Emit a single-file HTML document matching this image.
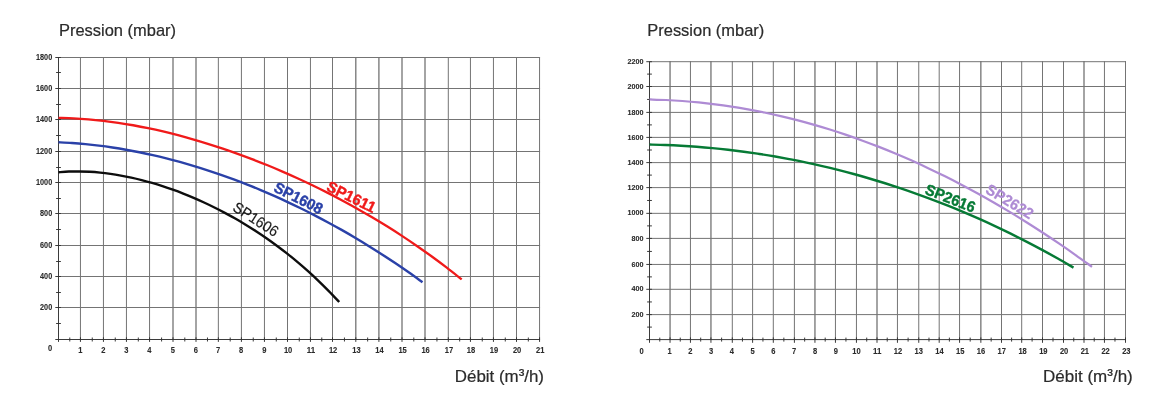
<!DOCTYPE html>
<html lang="fr">
<head>
<meta charset="utf-8">
<title>Courbes pression / débit</title>
<style>
html,body{margin:0;padding:0;background:#fff;}
body{width:1158px;height:407px;overflow:hidden;}
svg{display:block;}
text{font-family:"Liberation Sans",sans-serif;}
.tk text{font-weight:bold;fill:#2b2b2b;stroke:#2b2b2b;stroke-width:0.1px;}
.ttl{font-size:15.9px;fill:#2b2b2b;stroke:#2b2b2b;stroke-width:0.2;}
</style>
</head>
<body>
<svg width="1158" height="407" viewBox="0 0 1158 407">
<rect width="1158" height="407" fill="#fff"/>
<path d="M80.45 57V339.5M103.45 57V339.5M126.45 57V339.5M149.55 57V339.5M218.35 57V339.5M241.42 57V339.5M264.45 57V339.5M287.5 57V339.5M310.45 57V339.5M332.5 57V339.5M448.3 57V339.5M470.45 57V339.5M493.45 57V339.5M516.5 57V339.5M539.55 57V339.5M58.5 307.5H540.05M58.5 276.5H540.05M58.5 245.5H540.05M58.5 213.5H540.05M58.5 182.5H540.05M58.5 151.5H540.05M58.5 119.5H540.05M58.5 88.5H540.05M58.5 57.5H540.05" fill="none" stroke="#747474" stroke-width="1.0"/>
<path d="M173 57V339.5M196 57V339.5M355.8 57V339.5M378.9 57V339.5M402 57V339.5M425 57V339.5" fill="none" stroke="#747474" stroke-width="1.3"/>
<path d="M58.5 57.5V341.9M55.3 339.5H540.05M56.1 323.5H60.9M55.3 307.5H60.9M56.1 292.5H60.9M55.3 276.5H60.9M56.1 261.5H60.9M55.3 245.5H60.9M56.1 229.5H60.9M55.3 213.5H60.9M56.1 198.5H60.9M55.3 182.5H60.9M56.1 167.5H60.9M55.3 151.5H60.9M56.1 135.5H60.9M55.3 119.5H60.9M56.1 104.5H60.9M55.3 88.5H60.9M56.1 72.5H60.9M55.3 57.5H60.9M69.77 337.5V341.5M80.45 337.3V341.9M92.25 337.5V341.5M103.45 337.3V341.9M115.25 337.5V341.5M126.45 337.3V341.9M138.3 337.5V341.5M149.55 337.3V341.9M161.58 337.5V341.5M173 337.3V341.9M184.8 337.5V341.5M196 337.3V341.9M207.48 337.5V341.5M218.35 337.3V341.9M230.19 337.5V341.5M241.42 337.3V341.9M253.24 337.5V341.5M264.45 337.3V341.9M276.28 337.5V341.5M287.5 337.3V341.9M299.28 337.5V341.5M310.45 337.3V341.9M321.78 337.5V341.5M332.5 337.3V341.9M344.45 337.5V341.5M355.8 337.3V341.9M367.65 337.5V341.5M378.9 337.3V341.9M390.75 337.5V341.5M402 337.3V341.9M413.8 337.5V341.5M425 337.3V341.9M436.95 337.5V341.5M448.3 337.3V341.9M459.68 337.5V341.5M470.45 337.3V341.9M482.25 337.5V341.5M493.45 337.3V341.9M505.28 337.5V341.5M516.5 337.3V341.9M528.32 337.5V341.5M539.55 337.3V341.9" fill="none" stroke="#303030" stroke-width="0.95"/>
<g class="tk" text-anchor="end" style="font-size:8.2px">
<text x="52.2" y="310" textLength="12.15" lengthAdjust="spacingAndGlyphs">200</text>
<text x="52.2" y="279" textLength="12.15" lengthAdjust="spacingAndGlyphs">400</text>
<text x="52.2" y="248" textLength="12.15" lengthAdjust="spacingAndGlyphs">600</text>
<text x="52.2" y="216" textLength="12.15" lengthAdjust="spacingAndGlyphs">800</text>
<text x="52.2" y="185" textLength="16.2" lengthAdjust="spacingAndGlyphs">1000</text>
<text x="52.2" y="154" textLength="16.2" lengthAdjust="spacingAndGlyphs">1200</text>
<text x="52.2" y="122" textLength="16.2" lengthAdjust="spacingAndGlyphs">1400</text>
<text x="52.2" y="91" textLength="16.2" lengthAdjust="spacingAndGlyphs">1600</text>
<text x="52.2" y="60" textLength="16.2" lengthAdjust="spacingAndGlyphs">1800</text>
</g>
<g class="tk" text-anchor="middle" style="font-size:8.2px">
<text x="50" y="351.4" textLength="4.2" lengthAdjust="spacingAndGlyphs">0</text>
<text x="80.25" y="353" textLength="4.2" lengthAdjust="spacingAndGlyphs">1</text>
<text x="103.25" y="353" textLength="4.2" lengthAdjust="spacingAndGlyphs">2</text>
<text x="126.25" y="353" textLength="4.2" lengthAdjust="spacingAndGlyphs">3</text>
<text x="149.35" y="353" textLength="4.2" lengthAdjust="spacingAndGlyphs">4</text>
<text x="172.8" y="353" textLength="4.2" lengthAdjust="spacingAndGlyphs">5</text>
<text x="195.8" y="353" textLength="4.2" lengthAdjust="spacingAndGlyphs">6</text>
<text x="218.15" y="353" textLength="4.2" lengthAdjust="spacingAndGlyphs">7</text>
<text x="241.22" y="353" textLength="4.2" lengthAdjust="spacingAndGlyphs">8</text>
<text x="264.25" y="353" textLength="4.2" lengthAdjust="spacingAndGlyphs">9</text>
<text x="288.1" y="353" textLength="8.4" lengthAdjust="spacingAndGlyphs">10</text>
<text x="311.05" y="353" textLength="8.4" lengthAdjust="spacingAndGlyphs">11</text>
<text x="333.1" y="353" textLength="8.4" lengthAdjust="spacingAndGlyphs">12</text>
<text x="356.4" y="353" textLength="8.4" lengthAdjust="spacingAndGlyphs">13</text>
<text x="379.5" y="353" textLength="8.4" lengthAdjust="spacingAndGlyphs">14</text>
<text x="402.6" y="353" textLength="8.4" lengthAdjust="spacingAndGlyphs">15</text>
<text x="425.6" y="353" textLength="8.4" lengthAdjust="spacingAndGlyphs">16</text>
<text x="448.9" y="353" textLength="8.4" lengthAdjust="spacingAndGlyphs">17</text>
<text x="471.05" y="353" textLength="8.4" lengthAdjust="spacingAndGlyphs">18</text>
<text x="494.05" y="353" textLength="8.4" lengthAdjust="spacingAndGlyphs">19</text>
<text x="517.1" y="353" textLength="8.4" lengthAdjust="spacingAndGlyphs">20</text>
<text x="540.15" y="353" textLength="8.4" lengthAdjust="spacingAndGlyphs">21</text>
</g>
<text class="ttl" x="59" y="35.8" textLength="117" lengthAdjust="spacingAndGlyphs">Pression (mbar)</text>
<text class="ttl" x="454.8" y="381.7" textLength="89.2" lengthAdjust="spacingAndGlyphs">Débit (m<tspan dy="-1.6">³</tspan><tspan dy="1.6">/h)</tspan></text>
<path d="M690.45 61.1V339.6M732.3 61.1V339.6M752.6 61.1V339.6M773.3 61.1V339.6M794.4 61.1V339.6M835.45 61.1V339.6M856.45 61.1V339.6M897.45 61.1V339.6M918.75 61.1V339.6M939.2 61.1V339.6M959.55 61.1V339.6M1001.5 61.1V339.6M1021.7 61.1V339.6M1042.5 61.1V339.6M1063.5 61.1V339.6M1104.45 61.1V339.6M1125.5 61.1V339.6M649.5 314.6H1126M649.5 289.3H1126M649.5 264.45H1126M649.5 238.4H1126M649.5 213.35H1126M649.5 187.6H1126M649.5 162.6H1126M649.5 137.4H1126M649.5 112.4H1126M649.5 86.5H1126M649.5 61.7H1126" fill="none" stroke="#747474" stroke-width="1.0"/>
<path d="M670.05 61.1V339.6M710.95 61.1V339.6M814.95 61.1V339.6M877 61.1V339.6M980.85 61.1V339.6M1084 61.1V339.6" fill="none" stroke="#747474" stroke-width="1.3"/>
<path d="M649.5 61.6V342.8M646.3 339.6H1126M647.1 327.1H651.9M646.3 314.6H651.9M647.1 301.95H651.9M646.3 289.3H651.9M647.1 276.88H651.9M646.3 264.45H651.9M647.1 251.43H651.9M646.3 238.4H651.9M647.1 225.88H651.9M646.3 213.35H651.9M647.1 200.47H651.9M646.3 187.6H651.9M647.1 175.1H651.9M646.3 162.6H651.9M647.1 150H651.9M646.3 137.4H651.9M647.1 124.9H651.9M646.3 112.4H651.9M647.1 99.45H651.9M646.3 86.5H651.9M647.1 74.1H651.9M646.3 61.7H651.9M659.77 337.6V341.6M670.05 337.4V342.8M680.25 337.6V341.6M690.45 337.4V342.8M700.7 337.6V341.6M710.95 337.4V342.8M721.62 337.6V341.6M732.3 337.4V342.8M742.45 337.6V341.6M752.6 337.4V342.8M762.95 337.6V341.6M773.3 337.4V342.8M783.85 337.6V341.6M794.4 337.4V342.8M804.67 337.6V341.6M814.95 337.4V342.8M825.2 337.6V341.6M835.45 337.4V342.8M845.95 337.6V341.6M856.45 337.4V342.8M866.73 337.6V341.6M877 337.4V342.8M887.23 337.6V341.6M897.45 337.4V342.8M908.1 337.6V341.6M918.75 337.4V342.8M928.98 337.6V341.6M939.2 337.4V342.8M949.38 337.6V341.6M959.55 337.4V342.8M970.2 337.6V341.6M980.85 337.4V342.8M991.17 337.6V341.6M1001.5 337.4V342.8M1011.6 337.6V341.6M1021.7 337.4V342.8M1032.1 337.6V341.6M1042.5 337.4V342.8M1053 337.6V341.6M1063.5 337.4V342.8M1073.75 337.6V341.6M1084 337.4V342.8M1094.22 337.6V341.6M1104.45 337.4V342.8M1114.97 337.6V341.6M1125.5 337.4V342.8" fill="none" stroke="#303030" stroke-width="0.95"/>
<g class="tk" text-anchor="end" style="font-size:7.4px">
<text x="643.6" y="316.7" textLength="12" lengthAdjust="spacingAndGlyphs">200</text>
<text x="643.6" y="291.4" textLength="12" lengthAdjust="spacingAndGlyphs">400</text>
<text x="643.6" y="266.55" textLength="12" lengthAdjust="spacingAndGlyphs">600</text>
<text x="643.6" y="240.5" textLength="12" lengthAdjust="spacingAndGlyphs">800</text>
<text x="643.6" y="215.45" textLength="16" lengthAdjust="spacingAndGlyphs">1000</text>
<text x="643.6" y="189.7" textLength="16" lengthAdjust="spacingAndGlyphs">1200</text>
<text x="643.6" y="164.7" textLength="16" lengthAdjust="spacingAndGlyphs">1400</text>
<text x="643.6" y="139.5" textLength="16" lengthAdjust="spacingAndGlyphs">1600</text>
<text x="643.6" y="114.5" textLength="16" lengthAdjust="spacingAndGlyphs">1800</text>
<text x="643.6" y="88.6" textLength="16" lengthAdjust="spacingAndGlyphs">2000</text>
<text x="643.6" y="63.8" textLength="16" lengthAdjust="spacingAndGlyphs">2200</text>
</g>
<g class="tk" text-anchor="middle" style="font-size:8.2px">
<text x="641.5" y="353.9" textLength="4.2" lengthAdjust="spacingAndGlyphs">0</text>
<text x="669.66" y="353.9" textLength="4.2" lengthAdjust="spacingAndGlyphs">1</text>
<text x="690.42" y="353.9" textLength="4.2" lengthAdjust="spacingAndGlyphs">2</text>
<text x="711.18" y="353.9" textLength="4.2" lengthAdjust="spacingAndGlyphs">3</text>
<text x="731.94" y="353.9" textLength="4.2" lengthAdjust="spacingAndGlyphs">4</text>
<text x="752.7" y="353.9" textLength="4.2" lengthAdjust="spacingAndGlyphs">5</text>
<text x="773.46" y="353.9" textLength="4.2" lengthAdjust="spacingAndGlyphs">6</text>
<text x="794.22" y="353.9" textLength="4.2" lengthAdjust="spacingAndGlyphs">7</text>
<text x="814.98" y="353.9" textLength="4.2" lengthAdjust="spacingAndGlyphs">8</text>
<text x="835.74" y="353.9" textLength="4.2" lengthAdjust="spacingAndGlyphs">9</text>
<text x="856.5" y="353.9" textLength="8.4" lengthAdjust="spacingAndGlyphs">10</text>
<text x="877.26" y="353.9" textLength="8.4" lengthAdjust="spacingAndGlyphs">11</text>
<text x="898.02" y="353.9" textLength="8.4" lengthAdjust="spacingAndGlyphs">12</text>
<text x="918.78" y="353.9" textLength="8.4" lengthAdjust="spacingAndGlyphs">13</text>
<text x="939.54" y="353.9" textLength="8.4" lengthAdjust="spacingAndGlyphs">14</text>
<text x="960.3" y="353.9" textLength="8.4" lengthAdjust="spacingAndGlyphs">15</text>
<text x="981.06" y="353.9" textLength="8.4" lengthAdjust="spacingAndGlyphs">16</text>
<text x="1001.82" y="353.9" textLength="8.4" lengthAdjust="spacingAndGlyphs">17</text>
<text x="1022.58" y="353.9" textLength="8.4" lengthAdjust="spacingAndGlyphs">18</text>
<text x="1043.34" y="353.9" textLength="8.4" lengthAdjust="spacingAndGlyphs">19</text>
<text x="1064.1" y="353.9" textLength="8.4" lengthAdjust="spacingAndGlyphs">20</text>
<text x="1084.86" y="353.9" textLength="8.4" lengthAdjust="spacingAndGlyphs">21</text>
<text x="1105.62" y="353.9" textLength="8.4" lengthAdjust="spacingAndGlyphs">22</text>
<text x="1126.38" y="353.9" textLength="8.4" lengthAdjust="spacingAndGlyphs">23</text>
</g>
<text class="ttl" x="647.3" y="35.8" textLength="117" lengthAdjust="spacingAndGlyphs">Pression (mbar)</text>
<text class="ttl" x="1043" y="381.7" textLength="89.8" lengthAdjust="spacingAndGlyphs">Débit (m<tspan dy="-1.6">³</tspan><tspan dy="1.6">/h)</tspan></text>
<path d="M58.5 172.21C60.23 172.1 65.43 171.69 68.9 171.57C72.36 171.44 75.83 171.4 79.29 171.44C82.76 171.48 86.22 171.61 89.69 171.81C93.15 172.01 96.62 172.29 100.09 172.64C103.55 172.98 107.02 173.41 110.48 173.9C113.95 174.39 117.41 174.96 120.88 175.58C124.34 176.21 127.81 176.91 131.27 177.67C134.74 178.42 138.2 179.25 141.67 180.13C145.14 181.02 148.6 181.96 152.07 182.97C155.53 183.97 159 185.04 162.46 186.17C165.93 187.29 169.39 188.48 172.86 189.72C176.32 190.96 179.79 192.27 183.26 193.63C186.72 194.99 190.19 196.41 193.65 197.89C197.12 199.37 200.58 200.91 204.05 202.51C207.51 204.11 210.98 205.76 214.44 207.49C217.91 209.21 221.38 210.99 224.84 212.84C228.31 214.69 231.77 216.6 235.24 218.58C238.7 220.55 242.17 222.6 245.63 224.71C249.1 226.83 252.56 229.01 256.03 231.27C259.5 233.52 262.96 235.85 266.43 238.26C269.89 240.67 273.36 243.15 276.82 245.72C280.29 248.29 283.75 250.93 287.22 253.67C290.68 256.41 294.15 259.23 297.61 262.15C301.08 265.06 304.55 268.07 308.01 271.18C311.48 274.29 314.94 277.49 318.41 280.8C321.87 284.12 325.34 287.53 328.8 291.06C332.27 294.59 337.47 300.17 339.2 302" fill="none" stroke="#0d0d0d" stroke-width="2.4" stroke-linecap="butt"/>
<path d="M58.5 142.27C60.75 142.39 67.49 142.71 71.98 143.02C76.48 143.33 80.97 143.71 85.46 144.15C89.96 144.59 94.45 145.09 98.94 145.65C103.44 146.2 107.93 146.82 112.43 147.5C116.92 148.18 121.41 148.91 125.91 149.71C130.4 150.5 134.9 151.35 139.39 152.26C143.88 153.17 148.38 154.13 152.87 155.15C157.36 156.17 161.86 157.25 166.35 158.38C170.85 159.51 175.34 160.7 179.83 161.94C184.33 163.18 188.82 164.47 193.31 165.82C197.81 167.17 202.3 168.57 206.8 170.03C211.29 171.49 215.78 173 220.28 174.56C224.77 176.12 229.27 177.74 233.76 179.41C238.25 181.08 242.75 182.81 247.24 184.59C251.73 186.36 256.23 188.2 260.72 190.08C265.22 191.97 269.71 193.9 274.2 195.9C278.7 197.89 283.19 199.94 287.69 202.04C292.18 204.14 296.67 206.3 301.17 208.51C305.66 210.72 310.15 212.98 314.65 215.31C319.14 217.63 323.64 220 328.13 222.44C332.62 224.87 337.12 227.36 341.61 229.91C346.1 232.46 350.6 235.06 355.09 237.73C359.59 240.39 364.08 243.11 368.57 245.9C373.07 248.68 377.56 251.52 382.06 254.42C386.55 257.33 391.04 260.29 395.54 263.32C400.03 266.34 404.52 269.43 409.02 272.58C413.51 275.74 420.25 280.63 422.5 282.24" fill="none" stroke="#2a41a8" stroke-width="2.4" stroke-linecap="butt"/>
<path d="M58.5 117.82C60.99 117.9 68.46 118.03 73.43 118.28C78.41 118.52 83.39 118.86 88.37 119.28C93.34 119.7 98.32 120.21 103.3 120.79C108.28 121.38 113.26 122.05 118.23 122.79C123.21 123.54 128.19 124.36 133.17 125.25C138.14 126.15 143.12 127.12 148.1 128.15C153.08 129.19 158.06 130.3 163.03 131.47C168.01 132.64 172.99 133.89 177.97 135.19C182.94 136.49 187.92 137.87 192.9 139.3C197.88 140.73 202.86 142.22 207.83 143.78C212.81 145.33 217.79 146.95 222.77 148.62C227.74 150.3 232.72 152.03 237.7 153.83C242.68 155.62 247.66 157.48 252.63 159.39C257.61 161.31 262.59 163.28 267.57 165.31C272.54 167.35 277.52 169.44 282.5 171.59C287.48 173.74 292.46 175.96 297.43 178.23C302.41 180.51 307.39 182.84 312.37 185.25C317.34 187.65 322.32 190.11 327.3 192.64C332.28 195.17 337.26 197.76 342.23 200.43C347.21 203.09 352.19 205.82 357.17 208.63C362.14 211.43 367.12 214.3 372.1 217.26C377.08 220.21 382.06 223.23 387.03 226.34C392.01 229.44 396.99 232.62 401.97 235.89C406.94 239.16 411.92 242.51 416.9 245.95C421.88 249.39 426.86 252.91 431.83 256.54C436.81 260.16 441.79 263.87 446.77 267.69C451.74 271.51 459.21 277.49 461.7 279.45" fill="none" stroke="#f01a1a" stroke-width="2.3" stroke-linecap="butt"/>
<path d="M649.6 144.57C652.22 144.64 660.07 144.81 665.3 145.01C670.53 145.21 675.77 145.45 681 145.75C686.23 146.05 691.47 146.39 696.7 146.79C701.93 147.19 707.17 147.64 712.4 148.14C717.63 148.63 722.87 149.18 728.1 149.78C733.33 150.38 738.57 151.03 743.8 151.73C749.03 152.44 754.27 153.19 759.5 153.99C764.73 154.79 769.97 155.65 775.2 156.55C780.43 157.46 785.67 158.42 790.9 159.42C796.13 160.43 801.37 161.49 806.6 162.6C811.83 163.72 817.07 164.88 822.3 166.1C827.53 167.31 832.77 168.58 838 169.9C843.23 171.23 848.47 172.6 853.7 174.03C858.93 175.46 864.17 176.94 869.4 178.48C874.63 180.02 879.87 181.61 885.1 183.25C890.33 184.9 895.57 186.6 900.8 188.35C906.03 190.11 911.27 191.92 916.5 193.79C921.73 195.66 926.97 197.58 932.2 199.56C937.43 201.54 942.67 203.58 947.9 205.68C953.13 207.77 958.37 209.93 963.6 212.14C968.83 214.35 974.07 216.62 979.3 218.96C984.53 221.29 989.77 223.68 995 226.13C1000.23 228.59 1005.47 231.1 1010.7 233.68C1015.93 236.25 1021.17 238.89 1026.4 241.59C1031.63 244.29 1036.87 247.05 1042.1 249.88C1047.33 252.71 1052.57 255.6 1057.8 258.56C1063.03 261.52 1070.88 266.12 1073.5 267.63" fill="none" stroke="#067a35" stroke-width="2.4" stroke-linecap="butt"/>
<path d="M649.6 99.47C652.33 99.56 660.52 99.76 665.99 100.02C671.45 100.27 676.91 100.6 682.37 101C687.83 101.41 693.29 101.88 698.76 102.43C704.22 102.98 709.68 103.6 715.14 104.29C720.6 104.98 726.06 105.75 731.53 106.59C736.99 107.43 742.45 108.34 747.91 109.32C753.37 110.31 758.83 111.36 764.3 112.49C769.76 113.62 775.22 114.83 780.68 116.1C786.14 117.38 791.6 118.72 797.07 120.14C802.53 121.56 807.99 123.06 813.45 124.62C818.91 126.19 824.38 127.83 829.84 129.54C835.3 131.25 840.76 133.03 846.22 134.89C851.68 136.74 857.15 138.67 862.61 140.67C868.07 142.67 873.53 144.74 878.99 146.89C884.45 149.03 889.92 151.25 895.38 153.54C900.84 155.83 906.3 158.19 911.76 160.62C917.22 163.05 922.69 165.56 928.15 168.13C933.61 170.71 939.07 173.36 944.53 176.08C950 178.8 955.46 181.59 960.92 184.45C966.38 187.32 971.84 190.25 977.3 193.26C982.77 196.26 988.23 199.34 993.69 202.49C999.15 205.64 1004.61 208.86 1010.07 212.15C1015.54 215.44 1021 218.8 1026.46 222.23C1031.92 225.66 1037.38 229.17 1042.84 232.74C1048.31 236.31 1053.77 239.96 1059.23 243.67C1064.69 247.39 1070.15 251.17 1075.61 255.03C1081.08 258.88 1089.27 264.84 1092 266.8" fill="none" stroke="#ae8bd4" stroke-width="2.2" stroke-linecap="butt"/>
<text class="lb" transform="translate(231.7 210.0) rotate(32.5)" fill="#1a1a1a" style="font-size:15.2px;font-weight:normal;stroke:#1a1a1a;stroke-width:0.2px" textLength="50.5" lengthAdjust="spacingAndGlyphs">SP1606</text>
<text class="lb" transform="translate(272.8 190.9) rotate(26.7)" fill="#2a41a8" style="font-size:15.2px;font-weight:bold;stroke:#2a41a8;stroke-width:0.4px" textLength="52.5" lengthAdjust="spacingAndGlyphs">SP1608</text>
<text class="lb" transform="translate(325.6 190.0) rotate(26.3)" fill="#f01a1a" style="font-size:15.2px;font-weight:bold;stroke:#f01a1a;stroke-width:0.4px" textLength="52.5" lengthAdjust="spacingAndGlyphs">SP1611</text>
<text class="lb" transform="translate(924.0 193.4) rotate(21.6)" fill="#067a35" style="font-size:15.2px;font-weight:bold;stroke:#067a35;stroke-width:0.4px" textLength="52.5" lengthAdjust="spacingAndGlyphs">SP2616</text>
<text class="lb" transform="translate(984.6 192.3) rotate(31.3)" fill="#ae8bd4" style="font-size:15.2px;font-weight:bold;stroke:#ae8bd4;stroke-width:0.3px" textLength="52.5" lengthAdjust="spacingAndGlyphs">SP2622</text>
</svg>
</body>
</html>
